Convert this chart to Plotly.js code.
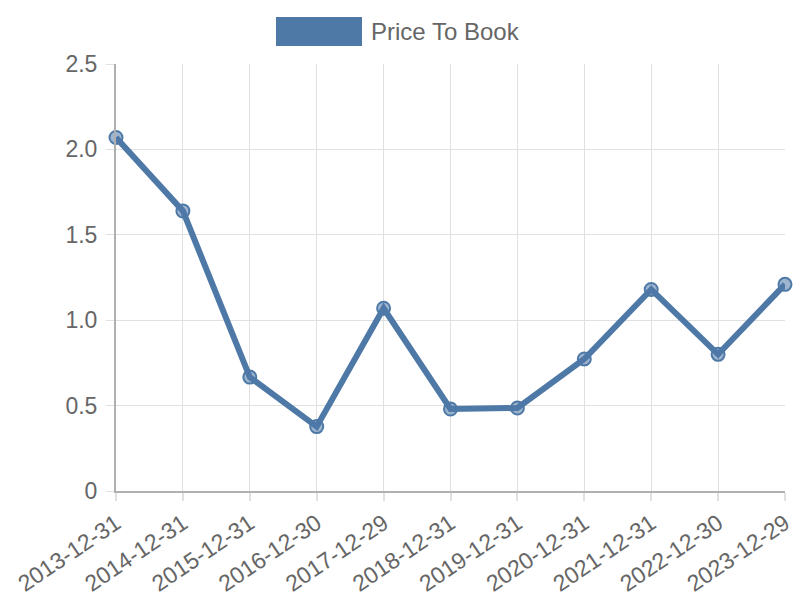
<!DOCTYPE html>
<html><head><meta charset="utf-8">
<script src="https://cdn.plot.ly/plotly-3.0.1.min.js"></script>
<style>body{margin:0;padding:0;background:#fff}#chart{width:800px;height:600px}</style>
</head><body><div id="chart"></div>
<script>
const dates = ["2013-12-31","2014-12-31","2015-12-31","2016-12-30","2017-12-29","2018-12-31","2019-12-31","2020-12-31","2021-12-31","2022-12-30","2023-12-29"];
const priceToBook = [2.07, 1.64, 0.667, 0.377, 1.07, 0.48, 0.486, 0.773, 1.18, 0.80, 1.21];
const seriesName = "Price To Book";
const yTicks = [0, 0.5, 1, 1.5, 2, 2.5];
const yTickText = ["0", "0.5", "1.0", "1.5", "2.0", "2.5"];

const lineColor = "rgb(78,121,167)";
const trace = {
  x: dates, y: priceToBook, type: "scatter", mode: "lines+markers", name: seriesName,
  line: {color: lineColor, width: 6},
  marker: {size: 13, color: "rgba(78,121,167,0.55)", line: {color: lineColor, width: 2}},
  showlegend: false, cliponaxis: false
};
const fam = "Liberation Sans, Arial, sans-serif";
const font = {family: fam, size: 23, color: "#666"};
const layout = {
  width: 800, height: 600,
  margin: {l: 116, r: 15, t: 64, b: 109},
  paper_bgcolor: "#fff", plot_bgcolor: "#fff",
  font: font,
  xaxis: {
    type: "category", range: [0, dates.length - 1],
    showgrid: true, gridcolor: "#e0e0e0", gridwidth: 1,
    showline: true, linecolor: "#b0b0b0", linewidth: 2,
    ticks: "outside", ticklen: 8, tickcolor: "#e0e0e0", tickwidth: 2,
    tickangle: -34, tickfont: {family: fam, size: 23, color: "#666"}, zeroline: false
  },
  yaxis: {
    range: [0, 2.5], tickvals: yTicks, ticktext: yTickText,
    showgrid: true, gridcolor: "#e0e0e0", gridwidth: 1,
    showline: true, linecolor: "#b0b0b0", linewidth: 2,
    ticks: "outside", ticklen: 8, tickcolor: "#e0e0e0", tickwidth: 1,
    tickfont: font, zeroline: false, ticklabelstandoff: 4
  },
  shapes: [{type: "rect", xref: "paper", yref: "paper", x0: (276-116)/669, x1: (362-116)/669, y0: (491-46)/427, y1: (491-17)/427,
    fillcolor: lineColor, line: {width: 0}}],
  annotations: [{text: seriesName, xref: "paper", yref: "paper", x: (369-116)/669, y: (491-31.5)/427,
    xanchor: "left", yanchor: "middle", showarrow: false, font: {family: fam, size: 24, color: "#666"}}]
};
Plotly.newPlot("chart", [trace], layout, {displayModeBar: false, staticPlot: true});
</script></body></html>
